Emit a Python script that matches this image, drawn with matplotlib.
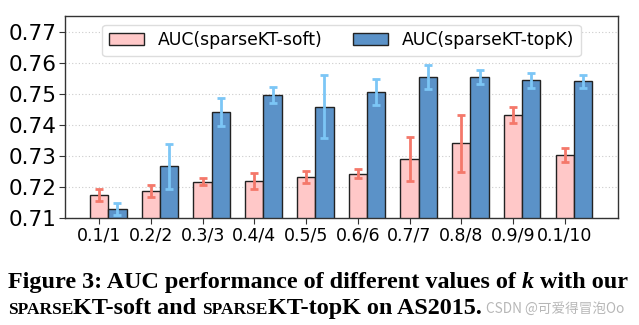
import matplotlib
matplotlib.use("Agg")
import matplotlib.pyplot as plt
import numpy as np

categories = ["0.1/1", "0.2/2", "0.3/3", "0.4/4", "0.5/5", "0.6/6", "0.7/7", "0.8/8", "0.9/9", "0.1/10"]
soft_auc = [0.7175, 0.7187, 0.7218, 0.7221, 0.7234, 0.7244, 0.7292, 0.7342, 0.7433, 0.7305]
soft_err = [0.0019, 0.0019, 0.0011, 0.0025, 0.0020, 0.0015, 0.0070, 0.0092, 0.0025, 0.0023]
topk_auc = [0.7131, 0.7268, 0.7443, 0.7498, 0.7460, 0.7508, 0.7556, 0.7556, 0.7545, 0.7543]
topk_err = [0.0019, 0.0073, 0.0045, 0.0026, 0.0102, 0.0043, 0.0038, 0.0024, 0.0023, 0.0021]
yticks = [0.71, 0.72, 0.73, 0.74, 0.75, 0.76, 0.77]

fig = plt.figure(figsize=(6.39, 3.25), dpi=100)
ax = fig.add_axes([65/639, 1-218.3/325, (618-65)/639, (218.3-16)/325])

x = np.arange(len(categories))
w = 0.354
ax.bar(x, soft_auc, w, color="#FFC8C8", edgecolor="#222222", linewidth=1.0,
       label="AUC(sparseKT-soft)", zorder=2)
ax.bar(x + w, topk_auc, w, color="#5B92C8", edgecolor="#222222", linewidth=1.0,
       label="AUC(sparseKT-topK)", zorder=2)
ax.errorbar(x, soft_auc, yerr=soft_err, fmt="none", ecolor="#F4786A",
            elinewidth=2.0, capsize=3, capthick=2.0, zorder=3)
ax.errorbar(x + w, topk_auc, yerr=topk_err, fmt="none", ecolor="#7CC6F6",
            elinewidth=2.0, capsize=3, capthick=2.0, zorder=3)

ax.set_ylim(0.71, 0.7753)
ax.set_xlim(-0.66, 10.03)
ax.set_yticks(yticks)
ax.set_yticklabels([f"{v:.2f}" for v in yticks], fontsize=15.5)
ax.set_xticks(x)
ax.set_xticklabels(categories, fontsize=12.5)
ax.tick_params(axis="both", direction="out", length=4, color="#333333", pad=2)
ax.yaxis.grid(True, linestyle=(0, (1, 2)), color="#CCCCCC", linewidth=0.8, zorder=0)
ax.set_axisbelow(True)
for s in ax.spines.values():
    s.set_color("#333333")
    s.set_linewidth(1.0)

ax.legend(loc="upper center", ncol=2, fontsize=12.4, frameon=True, fancybox=True,
          edgecolor="#DDDDDD", framealpha=1, bbox_to_anchor=(0.5, 1.0),
          columnspacing=1.8, handlelength=2.0, borderpad=0.4)

# Caption
cap_font = "Liberation Serif"
fig.canvas.draw()
r = fig.canvas.get_renderer()

def place_pieces(pieces, x0, ybase):
    xpos = x0
    for txt, size, style in pieces:
        t = fig.text(xpos, ybase, txt, fontsize=size, fontweight="bold", family=cap_font,
                     fontstyle=style, va="baseline", ha="left")
        bb = t.get_window_extent(r)
        xpos = bb.x1 / fig.bbox.width
    return xpos

place_pieces([
    ("Figure 3: AUC performance of different values of ", 17.4, "normal"),
    ("k", 17.4, "italic"),
    (" with our", 17.4, "normal"),
], 8/639, 1-288/325)

end2 = place_pieces([
    ("SPARSE", 12.5, "normal"),
    ("KT-soft and ", 17.4, "normal"),
    ("SPARSE", 12.5, "normal"),
    ("KT-topK on AS2015.", 17.4, "normal"),
], 8/639, 1-314/325)

fig.text(end2 + 4/639, 1-313/325, "CSDN @可爱得冒泡Oo", fontsize=9.8, color="#AAAAAA",
         alpha=0.85, family=["Noto Sans CJK SC", "DejaVu Sans"], va="baseline", ha="left")

fig.savefig("out.png", dpi=100)
